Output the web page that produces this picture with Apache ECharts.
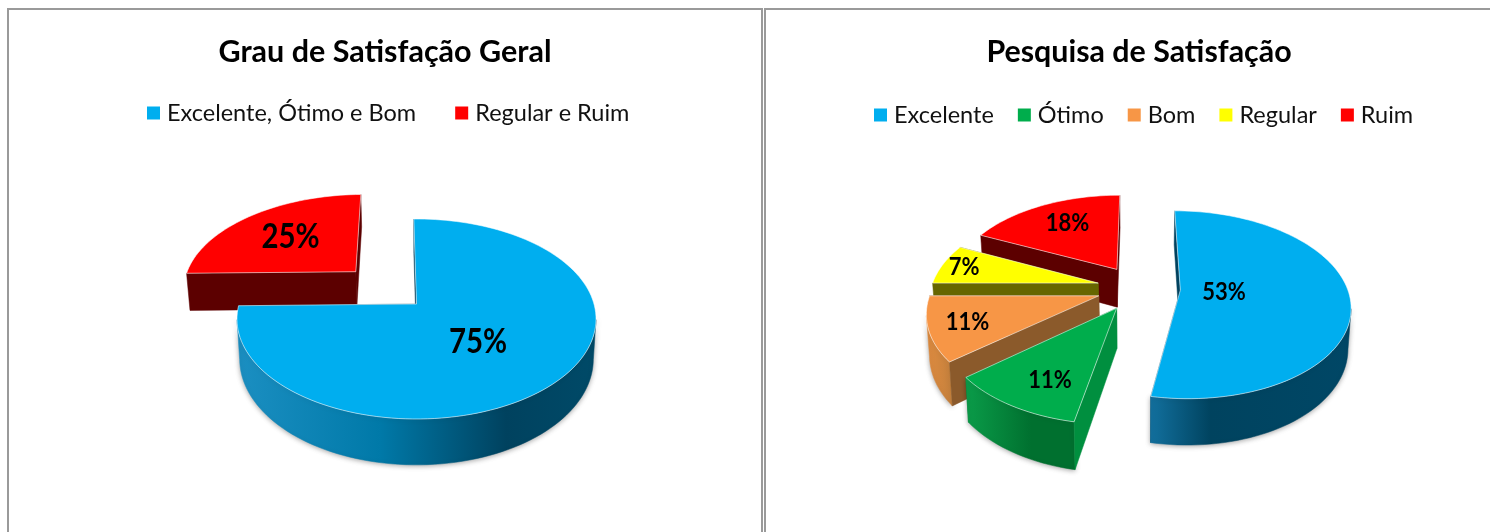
<!DOCTYPE html>
<html><head><meta charset="utf-8">
<style>html,body{margin:0;padding:0;background:#fff}#c{width:1490px;height:532px}</style>
<script src="https://cdn.jsdelivr.net/npm/echarts@6/dist/echarts.min.js"></script>
</head><body><div id="c"></div>
<script>
// ---- data ----
const overallTitle = 'Grau de Satisfação Geral';
const overallCategories = ['Excelente, Ótimo e Bom', 'Regular e Ruim'];
const overallValues = [75, 25];
const detailTitle = 'Pesquisa de Satisfação';
const detailCategories = ['Excelente', 'Ótimo', 'Bom', 'Regular', 'Ruim'];
const detailValues = [53, 11, 11, 7, 18];

// ---- styles per slice ----
const sky = {top:'#00aeef', wall:'#00425f'};
const overallStyles = [
  {top:sky.top, wall:sky.wall, rim:[[0,'#1b8fc2'],[0.4,'#0079a8'],[0.75,'#00425f'],[1,'#004a68']]},
  {top:'#ff0000', wall:'#5c0000', rim:[[0,'#5c0000'],[1,'#5c0000']]}
];
const detailStyles = [
  {top:sky.top, wall:sky.wall, rim:[[0,'#12709e'],[0.3,'#00435f'],[1,'#004766']]},
  {top:'#00ad4c', wall:'#008f3f', rim:[[0,'#0a9c49'],[0.6,'#00702f'],[1,'#00702f']]},
  {top:'#f79646', wall:'#8b5a2b', rim:[[0,'#e08c40'],[1,'#c4803c']]},
  {top:'#ffff00', wall:'#666600', rim:[[0,'#666600'],[1,'#666600']]},
  {top:'#ff0000', wall:'#5c0000', rim:[[0,'#5c0000'],[1,'#5c0000']]}
];

// ---- pie geometry (a tilted disc seen in perspective) ----
const overallPie = {cx:416.5, cy:304, rx:177.5, ry:97.75, k:0.15, depth:39, start:-1,
  explode:[0,0.5], labelR:[0.49,0.6], labelTurn:[4,0], fontSize:35, fontScaleX:0.84};
const detailPie = {cx:1138.6, cy:288, rx:167, ry:91, k:0.155, depth:39, start:0,
  explode:[0.25,0.25,0.25,0.25,0.25], labelR:[0.26,0.74,0.78,0.86,0.68], labelTurn:[0,-4,0,0,2],
  fontSize:25, fontScaleX:0.88};

const FONT = 'Lato, "Open Sans", sans-serif';

function project(p, u, v, z) {
  const s = 1 / (1 - p.k * v);
  const x = p.cx + p.rx * u * s * (1 - 0.015 * z);
  const y = p.cy + p.ry * v * s + z * p.depth * s;
  return [x, y];
}
function dir(deg) { const a = deg * Math.PI / 180; return [Math.sin(a), -Math.cos(a)]; }

function sliceSeries(name, idx, values, styles, pie) {
  const total = values.reduce((a, b) => a + b, 0);
  const before = values.slice(0, idx).reduce((a, b) => a + b, 0);
  const a0 = pie.start + before / total * 360;
  const a1 = a0 + values[idx] / total * 360;
  const mid = (a0 + a1) / 2;
  const st = styles[idx];
  const [du, dv] = dir(mid);
  return {
    type: 'custom', name: name, coordinateSystem: 'none', silent: true, animation: false,
    z: 10 + Math.round(dv * 5 * 10) / 10 + 5,
    itemStyle: {color: st.top},
    data: [[values[idx]]],
    renderItem: function (params, api) {
      const value = api.value(0);
      const ex = pie.explode[idx];
      const au = du * ex, av = dv * ex;
      const steps = Math.max(4, Math.ceil((a1 - a0) / 2));
      const rim = [];
      for (let i = 0; i <= steps; i++) {
        const [u, v] = dir(a0 + (a1 - a0) * i / steps);
        rim.push([au + u, av + v]);
      }
      const top = rim.map(q => project(pie, q[0], q[1], 0));
      const bot = rim.map(q => project(pie, q[0], q[1], 1));
      const apexT = project(pie, au, av, 0);
      const apexB = project(pie, au, av, 1);
      const poly = (pts, fill, stroke) => ({type:'polygon', shape:{points:pts},
        style:{fill:fill, stroke:stroke || fill, lineWidth:stroke ? 1 : 0.5}});
      // going clockwise on screen, an edge a->b faces the viewer when it runs right to left
      const faces = (a, b) => (a[0] - b[0]) > 0;
      const back = [], front = [];
      const wallA = poly([apexT, top[0], bot[0], apexB], st.wall);
      const wallB = poly([top[steps], apexT, apexB, bot[steps]], st.wall);
      (faces(apexT, top[0]) ? front : back).push(wallA);
      (faces(top[steps], apexT) ? front : back).push(wallB);
      // outer curved wall
      const rimTop = [], rimBot = [];
      for (let i = 0; i < steps; i++) {
        if (faces(top[i], top[i + 1])) {
          if (!rimTop.length) { rimTop.push(top[i]); rimBot.push(bot[i]); }
          rimTop.push(top[i + 1]); rimBot.push(bot[i + 1]);
        }
      }
      if (rimTop.length) {
        const xs = rimTop.concat(rimBot).map(q => q[0]);
        const x0 = Math.min.apply(null, xs), x1 = Math.max.apply(null, xs);
        const grad = new echarts.graphic.LinearGradient(x0, 0, x1, 0,
          st.rim.map(c => ({offset:c[0], color:c[1]})), true);
        const wall = poly(rimTop.concat(rimBot.slice().reverse()), grad);
        wall.style.shadowBlur = 5; wall.style.shadowColor = 'rgba(0,0,0,0.35)';
        wall.style.shadowOffsetY = 1;
        back.push(wall);
      }
      const face = poly([apexT].concat(top), st.top, 'rgba(255,255,255,0.55)');
      const [lu, lv] = dir(mid + pie.labelTurn[idx]);
      const r = pie.labelR[idx];
      const c = project(pie, au + lu * r, av + lv * r, 0);
      const lab = {type:'text', x:c[0], y:c[1], scaleX:pie.fontScaleX, scaleY:1,
        style:{text:value + '%', x:0, y:0, textAlign:'center', textVerticalAlign:'middle',
          align:'center', verticalAlign:'middle', fill:'#000',
          font:'bold ' + pie.fontSize + 'px ' + FONT}};
      return {type:'group', children: back.concat(front, [face, lab])};
    }
  };
}

const series = []
  .concat(overallCategories.map((n, i) => sliceSeries(n, i, overallValues, overallStyles, overallPie)))
  .concat(detailCategories.map((n, i) => sliceSeries(n, i, detailValues, detailStyles, detailPie)));

const legendBase = {icon:'rect', itemWidth:13, itemHeight:13, selectedMode:false};
const legendText = size => ({fontFamily:FONT, fontSize:size, color:'#111', padding:[0,0,0,2]});

const chart = echarts.init(document.getElementById('c'), null, {renderer:'canvas'});
chart.setOption({
  animation:false, backgroundColor:'#fff',
  title:[
    {text:overallTitle, left:380, top:32, textAlign:'center',
      textStyle:{fontFamily:FONT, fontWeight:'bold', fontSize:30.5, color:'#000'}},
    {text:detailTitle, left:1134, top:32, textAlign:'center',
      textStyle:{fontFamily:FONT, fontWeight:'bold', fontSize:30.4, color:'#000'}}
  ],
  legend:[
    Object.assign({}, legendBase, {data:overallCategories, left:142, top:96, itemGap:39, textStyle:legendText(23.5)}),
    Object.assign({}, legendBase, {data:detailCategories, left:869, top:98, itemGap:24, textStyle:legendText(23.5)})
  ],
  graphic:[
    {type:'rect', shape:{x:8,y:9,width:754,height:540}, style:{fill:'none',stroke:'#9a9a9a',lineWidth:2}, silent:true, z:1},
    {type:'rect', shape:{x:765,y:9,width:740,height:540}, style:{fill:'none',stroke:'#9a9a9a',lineWidth:2}, silent:true, z:1}
  ],
  series: series
});
</script></body></html>
